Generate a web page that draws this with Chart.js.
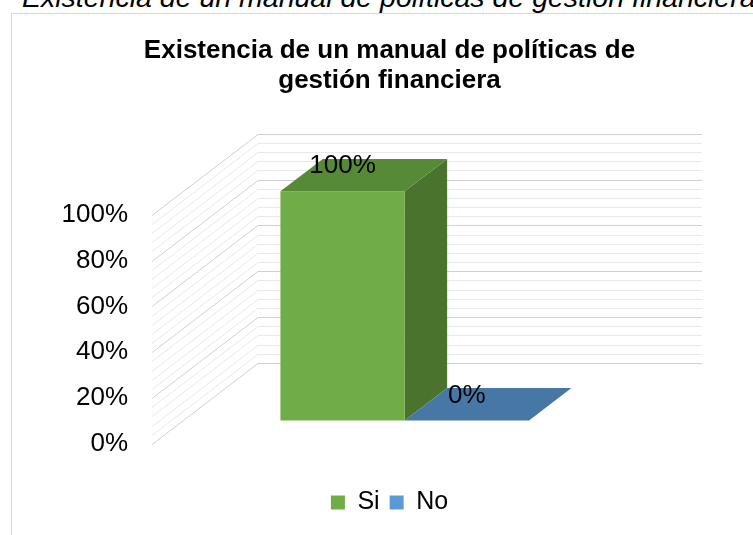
<!DOCTYPE html>
<html>
<head>
<meta charset="utf-8">
<script src="https://cdn.jsdelivr.net/npm/chart.js@4"></script>
<style>
  body { margin: 0; background: #fff; overflow: hidden; }
  #wrap { position: relative; width: 753px; height: 535px; overflow: hidden; }
  #caption {
    position: absolute; left: 22px; top: -17px; white-space: nowrap;
    font: italic 28.5px/28px "Liberation Sans", Arial, sans-serif; color: #000;
  }
  #frame {
    position: absolute; left: 11px; top: 13px; right: -2px; bottom: -2px;
    border-left: 1px solid #d9d9d9; border-top: 1px solid #d9d9d9;
  }
  #chart { position: absolute; left: 0; top: 0; }
</style>
</head>
<body>
<div id="wrap">
  <div id="caption">Existencia de un manual de políticas de gestión financiera</div>
  <div id="frame"></div>
  <canvas id="chart" width="753" height="535"></canvas>
</div>
<script>
// data
const categories = [""];
const seriesNames = ["Si", "No"];
const siValues = [100];
const noValues = [0];
const yTickStep = 20;
const yMinorStep = 4;

// colours: front, top, side
const faceColors = [
  { front: "#70ad47", top: "#578a37", side: "#4a742e" },
  { front: "#5b9bd5", top: "#4677a5", side: "#3b6690" },
];

const FONT = "'Liberation Sans', Arial, sans-serif";
const DEPTH_X = 106;
const DEPTH_Y = -81;
const BAR_FRONT = 0.29;
const BAR_BACK = 0.69;

// draws the walls, 3d boxes and value labels instead of the flat bars
const threeD = {
  id: "threeD",
  beforeDatasetsDraw(chart) {
    const ctx = chart.ctx;
    const area = chart.chartArea;
    const y = chart.scales.y;
    ctx.save();
    for (let v = y.min; v <= y.max; v += yMinorStep) {
      const py = Math.round(y.getPixelForValue(v)) + 0.5;
      ctx.strokeStyle = v % yTickStep === 0 ? "#d0d0d0" : "#e9e9e9";
      ctx.lineWidth = 1;
      ctx.beginPath();
      ctx.moveTo(area.left, py);
      ctx.lineTo(area.left + DEPTH_X, py + DEPTH_Y);
      ctx.lineTo(area.right + DEPTH_X, py + DEPTH_Y);
      ctx.stroke();
    }

    const poly = (pts, color) => {
      ctx.fillStyle = color;
      ctx.beginPath();
      ctx.moveTo(pts[0][0], pts[0][1]);
      pts.slice(1).forEach((p) => ctx.lineTo(p[0], p[1]));
      ctx.closePath();
      ctx.fill();
    };

    const labels = [];
    chart.data.datasets.forEach((ds, i) => {
      const meta = chart.getDatasetMeta(i);
      meta.data.forEach((el, j) => {
        const p = el.getProps(["x", "y", "base", "width"], true);
        const fx = BAR_FRONT * DEPTH_X, fy = BAR_FRONT * DEPTH_Y;
        const bx = BAR_BACK * DEPTH_X, by = BAR_BACK * DEPTH_Y;
        const l = p.x - p.width / 2, r = p.x + p.width / 2;
        const c = faceColors[i];
        // side
        poly([[r + fx, p.y + fy], [r + bx, p.y + by], [r + bx, p.base + by], [r + fx, p.base + fy]], c.side);
        // front
        poly([[l + fx, p.y + fy], [r + fx, p.y + fy], [r + fx, p.base + fy], [l + fx, p.base + fy]], c.front);
        // top
        poly([[l + fx, p.y + fy], [r + fx, p.y + fy], [r + bx, p.y + by], [l + bx, p.y + by]], c.top);
        labels.push({ x: p.x + fx, y: p.y + fy - 25, text: ds.data[j] + "%" });
      });
    });

    ctx.fillStyle = "#000";
    ctx.font = "26px " + FONT;
    ctx.textAlign = "center";
    ctx.textBaseline = "middle";
    labels.forEach((lb) => ctx.fillText(lb.text, lb.x, lb.y));
    ctx.restore();
    return false;
  },
};

new Chart(document.getElementById("chart").getContext("2d"), {
  type: "bar",
  data: {
    labels: categories,
    datasets: [
      { label: seriesNames[0], data: siValues, backgroundColor: faceColors[0].front },
      { label: seriesNames[1], data: noValues, backgroundColor: faceColors[1].front },
    ],
  },
  options: {
    responsive: false,
    animation: false,
    devicePixelRatio: 1,
    categoryPercentage: 0.56,
    barPercentage: 1,
    layout: { padding: { top: 36, right: 0, bottom: 10, left: 26 } },
    plugins: {
      title: {
        display: true,
        text: ["Existencia de un manual de políticas de", "gestión financiera"],
        color: "#000",
        font: { family: FONT, size: 26, weight: "bold", lineHeight: 1.15 },
        padding: { top: 0, bottom: 119 },
      },
      legend: {
        position: "bottom",
        labels: {
          color: "#000",
          font: { family: FONT, size: 25 },
          boxWidth: 14,
          boxHeight: 14,
          padding: 10,
        },
      },
      tooltip: { enabled: false },
    },
    scales: {
      x: {
        display: true,
        grid: { display: false },
        border: { display: false },
        ticks: { display: false },
        afterFit(scale) { scale.height = 36; },
      },
      y: {
        min: 0,
        max: 100,
        grid: { display: false },
        border: { display: false },
        ticks: {
          stepSize: yTickStep,
          padding: 16,
          color: "#000",
          font: { family: FONT, size: 26 },
          callback: (v) => v + "%",
        },
        afterFit(scale) { scale.width = 126; },
      },
      // empty right axis that keeps room for the depth of the back wall
      depth: {
        type: "linear",
        position: "right",
        display: true,
        grid: { display: false },
        border: { display: false },
        ticks: { display: false },
        afterFit(scale) { scale.width = 157; },
      },
    },
  },
  plugins: [threeD],
});
</script>
</body>
</html>
